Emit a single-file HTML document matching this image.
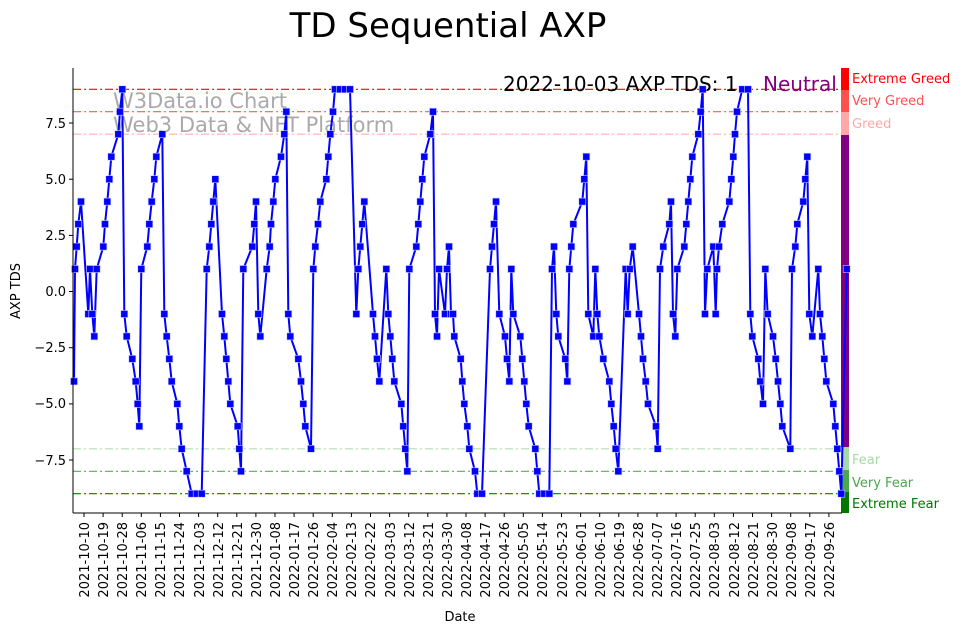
<!DOCTYPE html>
<html><head><meta charset="utf-8"><style>
body{margin:0;background:#fff;}
svg{display:block;font-family:"DejaVu Sans","Liberation Sans",sans-serif;}
</style></head><body>
<svg id="s" width="967" height="633" viewBox="0 0 967 633" xmlns="http://www.w3.org/2000/svg">
<text x="448" y="37" font-size="34" text-anchor="middle">TD Sequential AXP</text>
<g stroke-dasharray="8,3,2,3" stroke-width="1.2">
<line x1="73" x2="842" y1="89.3" y2="89.3" stroke="#ff0000"/>
<line x1="73" x2="842" y1="111.7" y2="111.7" stroke="#ff5a5a"/>
<line x1="73" x2="842" y1="134.2" y2="134.2" stroke="#ffb0b0"/>
<line x1="73" x2="842" y1="448.8" y2="448.8" stroke="#b0e0b0"/>
<line x1="73" x2="842" y1="471.3" y2="471.3" stroke="#55b055"/>
<line x1="73" x2="842" y1="493.7" y2="493.7" stroke="#008000"/>
</g>
<text x="113" y="108" font-size="21" fill="#aaa">W3Data.io Chart</text>
<text x="113" y="132" font-size="21" fill="#aaa">Web3 Data &amp; NFT Platform</text>
<text x="503" y="91" font-size="20">2022-10-03 AXP TDS: 1</text>
<text x="763" y="91" font-size="20" fill="#800080">Neutral</text>
<rect x="841" y="68" width="8" height="22" fill="#ff0000"/>
<rect x="841" y="90" width="8" height="22" fill="#ff5050"/>
<rect x="841" y="112" width="8" height="23" fill="#ffa8a8"/>
<rect x="841" y="135" width="8" height="312" fill="#800080"/>
<rect x="841" y="447" width="8" height="23" fill="#a8d8a8"/>
<rect x="841" y="470" width="8" height="22" fill="#4ca64c"/>
<rect x="841" y="492" width="8" height="21" fill="#007800"/>
<g font-size="13">
<text x="852" y="83" fill="#ff0000">Extreme Greed</text>
<text x="852" y="105" fill="#ff5050">Very Greed</text>
<text x="852" y="128" fill="#ffa8a8">Greed</text>
<text x="852" y="464" fill="#a8d8a8">Fear</text>
<text x="852" y="487" fill="#4ca64c">Very Fear</text>
<text x="852" y="508" fill="#007800">Extreme Fear</text>
</g>
<g id="series"></g>
<line x1="73" y1="68" x2="73" y2="513" stroke="#000" stroke-width="1"/>
<line x1="73" y1="513" x2="842" y2="513" stroke="#000" stroke-width="1"/>
<g stroke="#000">
<line x1="69" x2="73" y1="123.0" y2="123.0"/><line x1="69" x2="73" y1="179.2" y2="179.2"/>
<line x1="69" x2="73" y1="235.4" y2="235.4"/><line x1="69" x2="73" y1="291.5" y2="291.5"/>
<line x1="69" x2="73" y1="347.7" y2="347.7"/><line x1="69" x2="73" y1="403.9" y2="403.9"/>
<line x1="69" x2="73" y1="460.0" y2="460.0"/>
</g>
<g font-size="13" text-anchor="end">
<text x="66" y="128">7.5</text><text x="66" y="184">5.0</text><text x="66" y="240">2.5</text>
<text x="66" y="296">0.0</text><text x="66" y="352">−2.5</text><text x="66" y="408">−5.0</text>
<text x="66" y="465">−7.5</text>
</g>
<text transform="translate(20,291) rotate(-90)" font-size="13" text-anchor="middle">AXP TDS</text>
<text x="460" y="621" font-size="13" text-anchor="middle">Date</text>
<g id="xt" font-size="13" text-anchor="end">
<text transform="translate(89,522) rotate(-90)">2021-10-10</text>
<text transform="translate(108,522) rotate(-90)">2021-10-19</text>
<text transform="translate(127,522) rotate(-90)">2021-10-28</text>
<text transform="translate(146,522) rotate(-90)">2021-11-06</text>
<text transform="translate(165,522) rotate(-90)">2021-11-15</text>
<text transform="translate(184,522) rotate(-90)">2021-11-24</text>
<text transform="translate(204,522) rotate(-90)">2021-12-03</text>
<text transform="translate(223,522) rotate(-90)">2021-12-12</text>
<text transform="translate(242,522) rotate(-90)">2021-12-21</text>
<text transform="translate(261,522) rotate(-90)">2021-12-30</text>
<text transform="translate(280,522) rotate(-90)">2022-01-08</text>
<text transform="translate(299,522) rotate(-90)">2022-01-17</text>
<text transform="translate(318,522) rotate(-90)">2022-01-26</text>
<text transform="translate(337,522) rotate(-90)">2022-02-04</text>
<text transform="translate(356,522) rotate(-90)">2022-02-13</text>
<text transform="translate(375,522) rotate(-90)">2022-02-22</text>
<text transform="translate(395,522) rotate(-90)">2022-03-03</text>
<text transform="translate(414,522) rotate(-90)">2022-03-12</text>
<text transform="translate(433,522) rotate(-90)">2022-03-21</text>
<text transform="translate(452,522) rotate(-90)">2022-03-30</text>
<text transform="translate(471,522) rotate(-90)">2022-04-08</text>
<text transform="translate(490,522) rotate(-90)">2022-04-17</text>
<text transform="translate(509,522) rotate(-90)">2022-04-26</text>
<text transform="translate(528,522) rotate(-90)">2022-05-05</text>
<text transform="translate(547,522) rotate(-90)">2022-05-14</text>
<text transform="translate(567,522) rotate(-90)">2022-05-23</text>
<text transform="translate(586,522) rotate(-90)">2022-06-01</text>
<text transform="translate(605,522) rotate(-90)">2022-06-10</text>
<text transform="translate(624,522) rotate(-90)">2022-06-19</text>
<text transform="translate(643,522) rotate(-90)">2022-06-28</text>
<text transform="translate(662,522) rotate(-90)">2022-07-07</text>
<text transform="translate(681,522) rotate(-90)">2022-07-16</text>
<text transform="translate(700,522) rotate(-90)">2022-07-25</text>
<text transform="translate(719,522) rotate(-90)">2022-08-03</text>
<text transform="translate(739,522) rotate(-90)">2022-08-12</text>
<text transform="translate(758,522) rotate(-90)">2022-08-21</text>
<text transform="translate(777,522) rotate(-90)">2022-08-30</text>
<text transform="translate(796,522) rotate(-90)">2022-09-08</text>
<text transform="translate(815,522) rotate(-90)">2022-09-17</text>
<text transform="translate(834,522) rotate(-90)">2022-09-26</text>
</g>
<g id="xtm" stroke="#000"></g>
</svg>
<script>
var d=[74,-4,75,1,76.7,2,78.3,3,81,4,88.3,-1,90,1,92.3,-1,94.3,-2,96.7,1,103.3,2,105,3,107.3,4,109.3,5,111.3,6,118.3,7,120,8,122.3,9,124.3,-1,126.7,-2,132.3,-3,135.7,-4,137.7,-5,139.3,-6,141.3,1,147.3,2,149.3,3,151.7,4,154.3,5,156.3,6,162.3,7,164.3,-1,166.7,-2,169.3,-3,171.7,-4,177.3,-5,179.3,-6,181.7,-7,186.7,-8,191.7,-9,196.7,-9,201.7,-9,206.7,1,209.3,2,211.3,3,213.3,4,215.3,5,222,-1,224.3,-2,226.3,-3,228.3,-4,230.3,-5,237.7,-6,239.3,-7,241,-8,243.3,1,252.3,2,254.3,3,256,4,258.3,-1,260.3,-2,266.7,1,269.7,2,271,3,273.3,4,275.3,5,281,6,284.3,7,286.3,8,288.3,-1,290.3,-2,298.3,-3,301,-4,303.3,-5,305.3,-6,311,-7,313.3,1,315.3,2,318,3,320.3,4,326.3,5,328.3,6,330.3,7,333,8,335,9,340,9,345,9,350,9,356.3,-1,358.3,1,360.3,2,362.3,3,364.3,4,373,-1,375,-2,377,-3,379.3,-4,386.3,1,388.3,-1,390.3,-2,392.3,-3,394.3,-4,401.3,-5,403.3,-6,405.3,-7,407.3,-8,409.3,1,416.3,2,418.3,3,420.3,4,422.3,5,424.3,6,430.3,7,433,8,435,-1,437,-2,439,1,445,-1,447,1,449,2,451,-1,453,-1,454.3,-2,460.7,-3,462.3,-4,464.3,-5,467.3,-6,469.3,-7,475,-8,477.3,-9,482,-9,490,1,492,2,494,3,496,4,499.3,-1,505,-2,507,-3,509.3,-4,511.3,1,513.3,-1,520.3,-2,522.3,-3,524.3,-4,526.3,-5,528.7,-6,535.3,-7,537.3,-8,539.3,-9,544.3,-9,549.3,-9,552,1,554,2,556.3,-1,558.3,-2,565.3,-3,567.3,-4,569.3,1,571.3,2,573.3,3,582.3,4,584.3,5,586.3,6,588.3,-1,593.3,-2,595.3,1,597.3,-1,599.3,-2,603.3,-3,609.3,-4,611.3,-5,613.7,-6,615.7,-7,618.3,-8,625.7,1,627.7,-1,629.7,1,632.7,2,639,-1,641,-2,643,-3,645.7,-4,648,-5,656,-6,657.7,-7,660,1,663.3,2,669.3,3,671,4,673,-1,675.3,-2,677.3,1,684.3,2,686.3,3,688.3,4,690.3,5,692.3,6,698.3,7,700.7,8,702.7,9,705,-1,707.3,1,713.3,2,715.7,-1,717,1,719,2,722.3,3,729.3,4,731.3,5,733.3,6,735,7,737,8,742.3,9,748,9,750.3,-1,752.3,-2,758.3,-3,760.3,-4,763,-5,765.3,1,767.7,-1,773,-2,775.7,-3,778,-4,780.3,-5,782.3,-6,790.3,-7,792,1,795.3,2,797.3,3,803.3,4,805.3,5,807.3,6,809.3,-1,812.3,-2,818.3,1,820,-1,822.3,-2,824.3,-3,826.3,-4,833.3,-5,835.3,-6,837.3,-7,839.3,-8,841.3,-9,846.7,1];
var g=document.getElementById("series"),pts=[],h="";
for(var i=0;i<d.length;i+=2){var x=d[i],y=291.5-d[i+1]*22.47;pts.push(x+","+y.toFixed(1));
h+='<rect x="'+(x-3.5)+'" y="'+(y-3.5).toFixed(1)+'" width="7" height="7" fill="#0000ff" stroke="#c8c8ff" stroke-width="0.6"/>';}
g.innerHTML='<polyline points="'+pts.join(" ")+'" fill="none" stroke="#0000ff" stroke-width="2"/>'+h;
var t="";for(var k=0;k<40;k++){var x=84+k*19.1;t+='<line x1="'+x+'" x2="'+x+'" y1="513" y2="517"/>';}
document.getElementById("xtm").innerHTML=t;
</script>
</body></html>
